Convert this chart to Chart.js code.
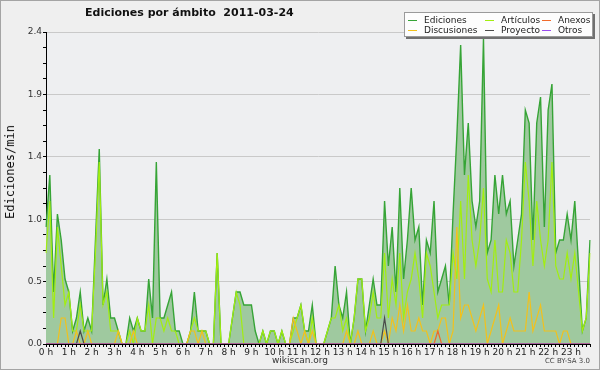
<!DOCTYPE html>
<html>
<head>
<meta charset="utf-8">
<script src="https://cdn.jsdelivr.net/npm/chart.js@4.4.1/dist/chart.umd.min.js"></script>
<style>
  body { margin: 0; background: #efefef; }
  #wrap { position: relative; width: 600px; height: 370px; overflow: hidden; }
  #frame { position: absolute; left: 0; top: 0; width: 600px; height: 370px; box-sizing: border-box; border: 1px solid #a4a4a4; pointer-events: none; }
  #title { position: absolute; left: 85px; top: 6px; font: bold 11px 'DejaVu Sans', sans-serif; color: #111; white-space: pre; }
  #ylabel { position: absolute; left: 10px; top: 172px; font: 12px 'DejaVu Sans Mono', monospace; color: #111; transform: translate(-50%, -50%) rotate(-90deg); white-space: nowrap; }
  #legend { position: absolute; left: 404px; top: 12px; width: 189px; height: 25px; background: #fdfdfd; border: 1px solid #9a9a9a; box-shadow: 2px 2px 0 #707070; display: grid; grid-template-columns: 77px 57px 52px; grid-auto-rows: 10px; padding: 2px 0 0 3px; box-sizing: border-box; font: 9px 'DejaVu Sans', sans-serif; color: #222; }
  #legend .item { display: flex; align-items: center; height: 10px; white-space: nowrap; }
  #legend .swatch { width: 9px; height: 1px; margin-right: 7px; }
  #foot { position: absolute; left: 0; width: 600px; top: 355px; text-align: center; font: 9px 'DejaVu Sans', sans-serif; color: #333; }
  #cc { position: absolute; right: 10px; top: 357px; font: 7px 'DejaVu Sans', sans-serif; color: #444; }
</style>
</head>
<body>
<div id="wrap">
  <canvas id="chart" width="600" height="370"></canvas>
  <div id="title">Ediciones por ámbito  2011-03-24</div>
  <div id="ylabel">Ediciones/min</div>
  <div id="legend"></div>
  <div id="foot">wikiscan.org</div>
  <div id="cc">CC BY-SA 3.0</div>
  <div id="frame"></div>
</div>
<script>
// hour tick labels, one every 6 slots of 10 minutes
const hourLabels = ['0 h', '1 h', '2 h', '3 h', '4 h', '5 h', '6 h', '7 h', '8 h', '9 h', '10 h', '11 h',
    '12 h', '13 h', '14 h', '15 h', '16 h', '17 h', '18 h', '19 h', '20 h', '21 h', '22 h', '23 h'];
const slotMinutes = ['00', '10', '20', '30', '40', '50'];

// edits per minute, 10-minute slots
const ediciones = [
    0.9, 1.3, 0.4, 1.0, 0.8, 0.5, 0.4, 0.1, 0.2, 0.4, 0.1, 0.2,
    0.1, 0.8, 1.5, 0.3, 0.5, 0.2, 0.2, 0.1, 0, 0, 0.2, 0.1,
    0.2, 0.1, 0.1, 0.5, 0.2, 1.4, 0.2, 0.2, 0.3, 0.4, 0.1, 0.1,
    0, 0, 0.1, 0.4, 0.1, 0.1, 0.1, 0, 0, 0.7, 0, 0,
    0, 0.2, 0.4, 0.4, 0.3, 0.3, 0.3, 0.1, 0, 0.1, 0, 0.1,
    0.1, 0, 0.1, 0, 0, 0.2, 0.2, 0.3, 0.1, 0.1, 0.3, 0,
    0, 0, 0.1, 0.2, 0.6, 0.3, 0.2, 0.4, 0, 0.2, 0.5, 0.5,
    0.1, 0.3, 0.5, 0.3, 0.3, 1.1, 0.6, 0.9, 0.4, 1.2, 0.5, 0.8,
    1.2, 0.8, 0.9, 0.3, 0.8, 0.7, 1.1, 0.4, 0.5, 0.6, 0.3, 1.0,
    1.6, 2.3, 1.3, 1.7, 1.1, 0.9, 1.1, 2.35, 0.7, 0.8, 1.3, 1.0,
    1.3, 1.0, 1.1, 0.6, 0.8, 1.0, 1.8, 1.7, 0.8, 1.7, 1.9, 0.9,
    1.8, 2.0, 0.7, 0.8, 0.8, 1.0, 0.8, 1.1, 0.6, 0.1, 0.2, 0.8
];
const articulos = [
    0.7, 1.1, 0.2, 0.9, 0.6, 0.3, 0.4, 0.1, 0.1, 0.3, 0.1, 0.1,
    0.1, 0.7, 1.4, 0.3, 0.4, 0.1, 0.1, 0.1, 0, 0, 0.1, 0,
    0.2, 0.1, 0.1, 0.3, 0, 0.2, 0.2, 0.1, 0.2, 0.1, 0.1, 0,
    0, 0, 0.1, 0.2, 0.1, 0.1, 0.1, 0, 0, 0.7, 0, 0,
    0, 0.2, 0.4, 0.3, 0, 0, 0, 0, 0, 0.1, 0, 0.1,
    0.1, 0, 0.1, 0, 0, 0.1, 0.2, 0.3, 0.1, 0, 0.2, 0,
    0, 0, 0.1, 0.2, 0.2, 0.3, 0.1, 0.2, 0, 0.2, 0.5, 0.5,
    0.1, 0.2, 0.4, 0.2, 0.2, 0.7, 0.2, 0.5, 0.3, 0.7, 0.2, 0.4,
    0.5, 0.7, 0.5, 0.2, 0.7, 0.6, 0.4, 0.2, 0.3, 0.3, 0.3, 0.7,
    0.5, 1.1, 0.5, 1.3, 0.8, 0.6, 0.8, 1.2, 0.5, 0.4, 0.8, 0.4,
    0.4, 0.8, 0.7, 0.4, 0.4, 0.8, 1.4, 1.1, 0.6, 1.1, 0.8, 0.6,
    0.8, 1.4, 0.6, 0.5, 0.5, 0.7, 0.5, 0.7, 0.4, 0.1, 0.2, 0.7
];
const discusiones = [
    0, 0, 0, 0, 0.2, 0.2, 0, 0, 0.1, 0, 0, 0.1,
    0, 0, 0, 0, 0, 0, 0, 0.1, 0, 0, 0, 0.1,
    0, 0, 0, 0, 0, 0, 0, 0, 0, 0, 0, 0,
    0, 0, 0.1, 0.1, 0, 0.1, 0, 0, 0, 0, 0, 0,
    0, 0, 0, 0, 0, 0, 0, 0, 0, 0, 0, 0,
    0, 0, 0, 0, 0, 0.2, 0.1, 0, 0.1, 0, 0.1, 0,
    0, 0, 0, 0, 0, 0, 0, 0.1, 0, 0, 0.1, 0,
    0, 0, 0.1, 0, 0, 0.1, 0, 0.2, 0.1, 0.3, 0.1, 0.3,
    0.1, 0.1, 0.2, 0.1, 0.1, 0, 0.1, 0.1, 0.2, 0.2, 0, 0.1,
    0.9, 0.2, 0.3, 0.3, 0.2, 0.1, 0.2, 0.3, 0, 0.1, 0.2, 0.3,
    0, 0.1, 0.2, 0.1, 0.1, 0.1, 0.1, 0.4, 0.1, 0.2, 0.3, 0.1,
    0.1, 0.1, 0.1, 0, 0.1, 0.1, 0, 0, 0, 0, 0, 0
];
const proyecto = [
    0, 0, 0, 0, 0, 0, 0, 0, 0, 0.1, 0, 0,
    0, 0, 0, 0, 0, 0, 0, 0, 0, 0, 0, 0,
    0, 0, 0, 0, 0, 0, 0, 0, 0, 0, 0, 0,
    0, 0, 0, 0, 0, 0, 0, 0, 0, 0, 0, 0,
    0, 0, 0, 0, 0, 0, 0, 0, 0, 0, 0, 0,
    0, 0, 0, 0, 0, 0, 0, 0, 0, 0, 0, 0,
    0, 0, 0, 0, 0, 0, 0, 0, 0, 0, 0, 0,
    0, 0, 0, 0, 0, 0.2, 0, 0, 0, 0, 0, 0,
    0, 0, 0, 0, 0, 0, 0, 0, 0, 0, 0, 0,
    0, 0, 0, 0, 0, 0, 0, 0, 0, 0, 0, 0,
    0, 0, 0, 0, 0, 0, 0, 0, 0, 0, 0, 0,
    0, 0, 0, 0, 0, 0, 0, 0, 0, 0, 0, 0
];
const anexos = [
    0, 0, 0, 0, 0, 0, 0, 0, 0, 0, 0, 0,
    0, 0, 0, 0, 0, 0, 0, 0, 0, 0, 0, 0,
    0, 0, 0, 0, 0, 0, 0, 0, 0, 0, 0, 0,
    0, 0, 0, 0, 0, 0, 0, 0, 0, 0, 0, 0,
    0, 0, 0, 0, 0, 0, 0, 0, 0, 0, 0, 0,
    0, 0, 0, 0, 0, 0, 0, 0, 0, 0, 0, 0,
    0, 0, 0, 0, 0, 0, 0, 0, 0, 0, 0, 0,
    0, 0, 0, 0, 0, 0, 0, 0, 0, 0, 0, 0,
    0, 0, 0, 0, 0, 0, 0, 0.1, 0, 0, 0, 0,
    0, 0, 0, 0, 0, 0, 0, 0, 0, 0, 0, 0,
    0, 0, 0, 0, 0, 0, 0, 0, 0, 0, 0, 0,
    0, 0, 0, 0, 0, 0, 0, 0, 0, 0, 0, 0
];
const otros = [
    0, 0, 0, 0, 0, 0, 0, 0, 0, 0, 0, 0,
    0, 0, 0, 0, 0, 0, 0, 0, 0, 0, 0, 0,
    0, 0, 0, 0, 0, 0, 0, 0, 0, 0, 0, 0,
    0, 0, 0, 0, 0, 0, 0, 0, 0, 0, 0, 0,
    0, 0, 0, 0, 0, 0, 0, 0, 0, 0, 0, 0,
    0, 0, 0, 0, 0, 0, 0, 0, 0, 0, 0, 0,
    0, 0, 0, 0, 0, 0, 0, 0, 0, 0, 0, 0,
    0, 0, 0, 0, 0, 0, 0, 0, 0, 0, 0, 0,
    0, 0, 0, 0, 0, 0, 0, 0, 0, 0, 0, 0,
    0, 0, 0, 0, 0, 0, 0, 0, 0, 0, 0, 0,
    0, 0, 0, 0, 0, 0, 0, 0, 0, 0, 0, 0,
    0, 0, 0, 0, 0, 0, 0, 0, 0, 0, 0, 0
];

const seriesNames = ['Ediciones', 'Artículos', 'Discusiones', 'Proyecto', 'Anexos', 'Otros'];
const seriesData = [ediciones, articulos, discusiones, proyecto, anexos, otros];
const seriesColors = ['#36a436', '#a2ee10', '#f2c11c', '#4a4a4a', '#f06a2a', '#9a4cf0'];
const legendOrder = [0, 1, 4, 2, 3, 5];

// category labels: one per 10-minute slot
const slots = [];
hourLabels.forEach((h, i) => slotMinutes.forEach(m => slots.push(i + ':' + m)));

const tickFont = { family: "'DejaVu Sans', sans-serif", size: 9 };

const plotBackground = {
    id: 'plotBackground',
    beforeDraw(chart) {
        const { ctx, chartArea: a } = chart;
        ctx.save();
        ctx.fillStyle = '#eeeff1';
        ctx.fillRect(a.left, a.top, a.right - a.left, a.bottom - a.top);
        ctx.restore();
    }
};

const datasets = seriesData.map((data, i) => ({
    label: seriesNames[i],
    data: data,
    borderColor: seriesColors[i],
    borderWidth: i === 0 ? 1.4 : 1.2,
    backgroundColor: i === 0 ? '#9fc99f' : seriesColors[i],
    fill: i === 0 ? 'origin' : false,
    order: 10 - i,
    pointRadius: 0,
    tension: 0
}));

new Chart(document.getElementById('chart'), {
    type: 'line',
    data: { labels: slots, datasets: datasets },
    options: {
        responsive: false,
        animation: false,
        layout: { padding: { left: 0, right: 10, top: 32, bottom: 0 } },
        plugins: { legend: { display: false }, tooltip: { enabled: false }, title: { display: false } },
        scales: {
            x: {
                z: 1,
                grid: { drawOnChartArea: false, tickLength: 3, tickColor: '#000' },
                border: { color: '#000', width: 1 },
                ticks: {
                    autoSkip: false, maxRotation: 0, padding: 0, color: '#222', font: tickFont,
                    callback: (v, i) => i % 6 === 0 ? hourLabels[i / 6] : ''
                },
                afterFit: s => { s.height = 26; }
            },
            y: {
                z: 1,
                min: 0,
                max: 2.4,
                grid: {
                    color: c => Math.round(c.tick.value * 100) % 48 === 0 ? '#c9c9c9' : 'rgba(0,0,0,0)',
                    tickColor: '#000',
                    tickLength: 3
                },
                border: { color: '#000', width: 1 },
                ticks: {
                    stepSize: 0.12, autoSkip: false, padding: 1, color: '#333', font: tickFont,
                    callback: v => Math.round(v * 100) % 48 === 0 ? v.toFixed(1) : ''
                },
                afterFit: s => { s.width = 46; }
            }
        }
    },
    plugins: [plotBackground]
});

// legend built from the series
const legend = document.getElementById('legend');
legendOrder.forEach(i => {
    const item = document.createElement('div');
    item.className = 'item';
    const sw = document.createElement('span');
    sw.className = 'swatch';
    sw.style.background = seriesColors[i];
    const tx = document.createElement('span');
    tx.textContent = seriesNames[i];
    item.appendChild(sw);
    item.appendChild(tx);
    legend.appendChild(item);
});
</script>
</body>
</html>
